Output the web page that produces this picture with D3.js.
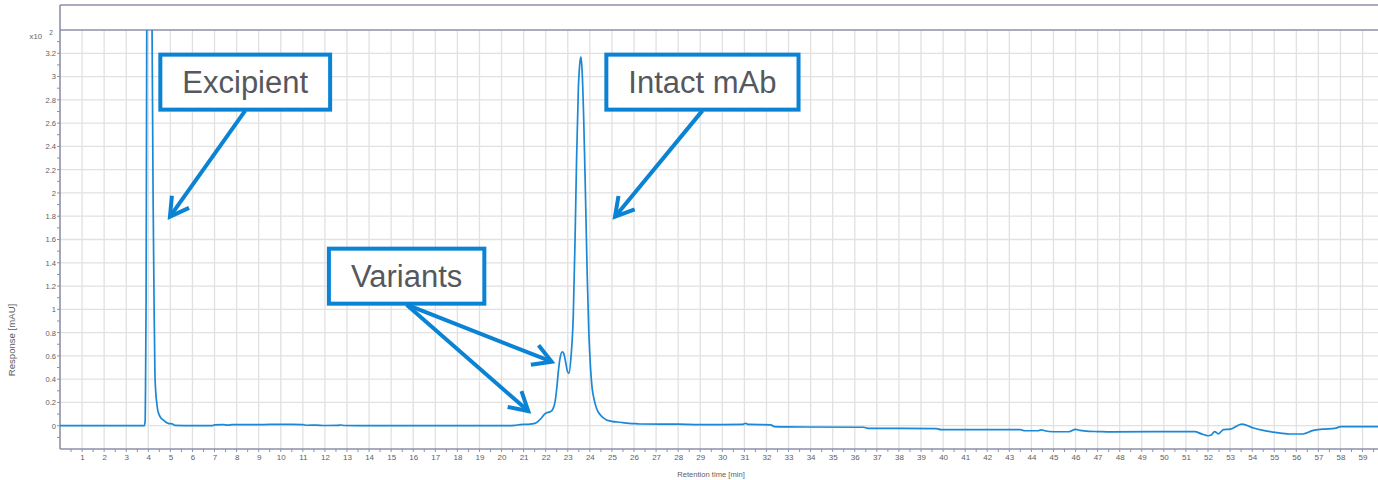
<!DOCTYPE html>
<html>
<head>
<meta charset="utf-8">
<script src="https://cdn.jsdelivr.net/npm/d3@7"></script>
<style>
  html, body { margin: 0; padding: 0; background: #fff; }
  svg { display: block; font-family: "Liberation Sans", Arial, sans-serif; }
</style>
</head>
<body>
<svg id="chart" width="1378" height="480"></svg>
<script>
// Chromatogram trace: retention time [min] and response [x10^2 mAU]
const retentionTimes = [
  0, 3.82, 3.86, 3.88, 3.9, 3.93, 3.97, 4.02, 4.08, 4.13, 4.17, 4.22, 4.26, 4.3, 4.34, 4.38,
  4.43, 4.48, 4.58, 4.67, 4.8, 4.9, 5.1, 5.2, 6.0, 6.9, 7.0, 7.4, 7.6, 7.8, 8.5, 9.0, 9.5,
  10.5, 11.0, 11.2, 11.6, 12.0, 12.6, 12.7, 12.9, 14.0, 20.0, 20.6, 20.84, 21.2, 21.52, 21.7,
  21.82, 21.95, 22.04, 22.2, 22.3, 22.42, 22.5, 22.57, 22.65, 22.75, 22.82, 22.9, 22.98, 23.05,
  23.15, 23.25, 23.33, 23.4, 23.48, 23.55, 23.6, 23.65, 23.72, 23.8, 23.88, 23.95, 24.03, 24.1,
  24.2, 24.3, 24.46, 24.6, 24.76, 25.0, 25.37, 26.0, 26.27, 28.0, 29.0, 30.0, 30.9, 31.05, 31.2,
  32.2, 32.35, 33.0, 36.4, 36.6, 39.7, 39.9, 43.5, 43.7, 44.3, 44.45, 44.6, 45.0, 45.7, 46.0,
  46.2, 46.6, 47.0, 47.6, 51.4, 51.7, 52.0, 52.15, 52.3, 52.47, 52.7, 53.0, 53.53, 54.06, 54.5,
  55.05, 55.7, 56.3, 56.77, 57.2, 57.8, 58.0, 59.7
];
const responses = [
  0, 0, 0.05, 0.5, 1.1, 3.4, 8, 12, 9, 5.5, 3.4, 1.9, 1.08, 0.45, 0.28, 0.2,
  0.13, 0.1, 0.065, 0.05, 0.03, 0.02, 0.015, 0.003, 0, 0, 0.007, 0.009, 0.005, 0.01, 0.01, 0.009, 0.011,
  0.011, 0.009, 0.004, 0.005, 0.002, 0.003, 0.006, 0.002, 0, 0, 0.003, 0.01, 0.012, 0.02, 0.045,
  0.07, 0.1, 0.11, 0.12, 0.135, 0.2, 0.32, 0.46, 0.58, 0.635, 0.62, 0.55, 0.47, 0.45,
  0.6, 0.95, 1.6, 2.3, 2.9, 3.12, 3.17, 3.05, 2.65, 2.0, 1.3, 0.82, 0.5, 0.33,
  0.22, 0.15, 0.096, 0.07, 0.05, 0.038, 0.03, 0.018, 0.015, 0.013, 0.01, 0.01, 0.011, 0.02, 0.011,
  0.008, -0.008, -0.01, -0.013, -0.022, -0.025, -0.034, -0.034, -0.043, -0.043, -0.035, -0.043, -0.052, -0.052, -0.032,
  -0.04, -0.048, -0.05, -0.053, -0.05, -0.07, -0.086, -0.08, -0.05, -0.07, -0.034, -0.03, 0.014, -0.02, -0.04,
  -0.057, -0.071, -0.071, -0.04, -0.03, -0.02, -0.008, -0.008
];

// Axis ticks
const xTickLabels = d3.range(1, 60);                       // 1 .. 59 min
const yTickLabels = d3.range(0, 17).map(i => i / 5);        // 0 .. 3.2
const xDomain = [0, 59.7];
const yDomain = [-0.2, 3.4];

// Peak callouts: label centre and arrow tips in data units
const calloutLabels = ["Excipient", "Intact mAb", "Variants"];
const calloutCentres = [[8.39, 2.952], [29.1, 2.952], [15.7, 1.285]];
const calloutTips = [
  [[4.98, 1.796]],
  [[25.14, 1.796]],
  [[22.27, 0.55], [21.21, 0.126]]
];

const svg = d3.select("#chart");
const plotLeft = 60, plotRight = 1378, plotTop = 30, plotBottom = 449, frameTop = 5;
const axisColor = "#8d91a8";
const gridColor = "#e1e1e1";
const textColor = "#5e5e5e";
const traceColor = "#1a88d6";
const calloutColor = "#0a83d4";

const x = d3.scaleLinear().domain(xDomain).range([plotLeft, plotRight]);
const y = d3.scaleLinear().domain(yDomain).range([plotBottom, plotTop]);

svg.append("rect").attr("width", 1378).attr("height", 480).attr("fill", "#fff");

// Grid
const grid = svg.append("g");
grid.selectAll("line.v").data(xTickLabels).join("line")
  .attr("x1", d => x(d)).attr("x2", d => x(d))
  .attr("y1", plotTop).attr("y2", plotBottom)
  .attr("stroke", gridColor).attr("stroke-width", 1.3);
grid.selectAll("line.h").data(yTickLabels).join("line")
  .attr("x1", plotLeft).attr("x2", plotRight)
  .attr("y1", d => y(d)).attr("y2", d => y(d))
  .attr("stroke", gridColor).attr("stroke-width", 1.3);

// X axis
const xAxis = d3.axisBottom(x).tickValues(xTickLabels).tickSize(0).tickPadding(5).tickFormat(d3.format("d"));
const gx = svg.append("g").attr("transform", `translate(0,${plotBottom})`).call(xAxis);
gx.select(".domain").remove();
gx.selectAll("text").attr("fill", textColor).attr("font-size", 8).attr("font-family", "Liberation Sans, Arial, sans-serif");
svg.append("g").selectAll("line").data(d3.range(0.5, 59.7, 0.5)).join("line")
  .attr("x1", d => x(d)).attr("x2", d => x(d))
  .attr("y1", plotBottom).attr("y2", plotBottom + 3)
  .attr("stroke", axisColor).attr("stroke-width", 1);

// Y axis
const yAxis = d3.axisLeft(y).tickValues(yTickLabels).tickSize(0).tickPadding(4).tickFormat(d => String(d));
const gy = svg.append("g").attr("transform", `translate(${plotLeft},0)`).call(yAxis);
gy.select(".domain").remove();
gy.selectAll("text").attr("fill", textColor).attr("font-size", 7.6).attr("font-family", "Liberation Sans, Arial, sans-serif");
svg.append("g").selectAll("line").data(d3.range(-1, 34).map(i => i / 10)).join("line")
  .attr("x1", plotLeft - 3).attr("x2", plotLeft)
  .attr("y1", d => y(d)).attr("y2", d => y(d))
  .attr("stroke", axisColor).attr("stroke-width", 1);

// Exponent marker
svg.append("text").attr("x", 42).attr("y", 39).attr("text-anchor", "end")
  .attr("font-size", 7.7).attr("fill", textColor).text("x10");
svg.append("text").attr("x", 51).attr("y", 34.5).attr("text-anchor", "middle")
  .attr("font-size", 6.5).attr("fill", textColor).text("2");

// Frame
svg.append("line").attr("x1", plotLeft).attr("x2", plotRight).attr("y1", frameTop).attr("y2", frameTop)
  .attr("stroke", axisColor).attr("stroke-width", 1.6);
svg.append("line").attr("x1", plotLeft).attr("x2", plotRight).attr("y1", plotTop).attr("y2", plotTop)
  .attr("stroke", axisColor).attr("stroke-width", 1.6);
svg.append("line").attr("x1", plotLeft).attr("x2", plotLeft).attr("y1", frameTop).attr("y2", plotBottom)
  .attr("stroke", axisColor).attr("stroke-width", 1.6);
svg.append("line").attr("x1", plotLeft).attr("x2", plotRight).attr("y1", plotBottom).attr("y2", plotBottom)
  .attr("stroke", axisColor).attr("stroke-width", 1.6);

// Axis titles
svg.append("text").attr("x", 711).attr("y", 477).attr("text-anchor", "middle")
  .attr("font-size", 7.6).attr("fill", textColor).text("Retention time [min]");
svg.append("text").attr("transform", "translate(15,340) rotate(-90)").attr("text-anchor", "middle")
  .attr("font-size", 9.6).attr("fill", textColor).text("Response [mAU]");

// Trace, clipped to the plotting area
svg.append("clipPath").attr("id", "plot-clip").append("rect")
  .attr("x", plotLeft).attr("y", plotTop).attr("width", plotRight - plotLeft).attr("height", plotBottom - plotTop);
const trace = retentionTimes.map((t, i) => [t, responses[i]]);
const line = d3.line().x(d => x(d[0])).y(d => y(d[1])).curve(d3.curveMonotoneX);
svg.append("path").datum(trace)
  .attr("clip-path", "url(#plot-clip)")
  .attr("d", line)
  .attr("fill", "none").attr("stroke", traceColor).attr("stroke-width", 1.7)
  .attr("stroke-linejoin", "round");

// Callouts
const fontSize = 31, padX = 22, boxH = 55, barb = 21, barbAngle = Math.PI / 6;
const callouts = svg.append("g");
calloutLabels.forEach((label, i) => {
  const cx = x(calloutCentres[i][0]), cy = y(calloutCentres[i][1]);
  const g = callouts.append("g");
  const txt = g.append("text").attr("x", cx).attr("y", cy + fontSize * 0.36)
    .attr("text-anchor", "middle").attr("font-size", fontSize).attr("fill", "#55585d")
    .text(label);
  const w = txt.node().getComputedTextLength() + 2 * padX;
  g.insert("rect", "text").attr("x", cx - w / 2).attr("y", cy - boxH / 2)
    .attr("width", w).attr("height", boxH)
    .attr("fill", "#fff").attr("stroke", calloutColor).attr("stroke-width", 4);
  const sx = cx, sy = cy + boxH / 2 + 1;
  calloutTips[i].forEach(tip => {
    const tx = x(tip[0]), ty = y(tip[1]);
    const ang = Math.atan2(sy - ty, sx - tx);
    callouts.append("line").attr("x1", sx).attr("y1", sy).attr("x2", tx).attr("y2", ty)
      .attr("stroke", calloutColor).attr("stroke-width", 4);
    const b1 = [tx + barb * Math.cos(ang + barbAngle), ty + barb * Math.sin(ang + barbAngle)];
    const b2 = [tx + barb * Math.cos(ang - barbAngle), ty + barb * Math.sin(ang - barbAngle)];
    callouts.append("path").attr("d", `M${b1[0]},${b1[1]}L${tx},${ty}L${b2[0]},${b2[1]}`)
      .attr("fill", "none").attr("stroke", calloutColor).attr("stroke-width", 4)
      .attr("stroke-linejoin", "miter");
  });
});
</script>
</body>
</html>
